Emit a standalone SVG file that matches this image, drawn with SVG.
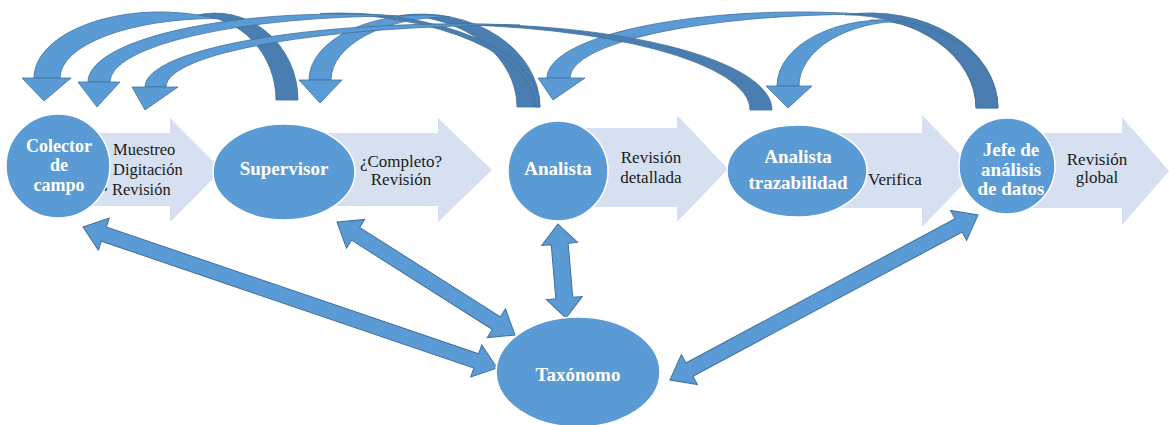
<svg xmlns="http://www.w3.org/2000/svg" width="1169" height="425" viewBox="0 0 1169 425">
<style>
.chev{fill:#d6e0f0}
.node{fill:#5b9bd5;stroke:#fff;stroke-width:1.5}
.nt{font-family:'Liberation Serif','DejaVu Serif',serif;font-weight:bold;font-size:19px;fill:#fff;text-anchor:middle}
.sm{font-size:18px}
.lt{font-family:'Liberation Serif','DejaVu Serif',serif;font-size:17px;fill:#1a1a1a}
.l1{font-size:16.5px}
.lite{fill:#5b9bd5;stroke:#41719c;stroke-width:0.8}
.dark{fill:#4a7eb0;stroke:#41719c;stroke-width:0.8}
.dbl{fill:#5b9bd5;stroke:#41719c;stroke-width:1}
</style>
<rect width="1169" height="425" fill="#fff"/>
<g id="process-arrows">
  <polygon class="chev" points="80,133 170,133 170,118 222,170 170,222 170,206 80,206"/>
  <polygon class="chev" points="300,133 438,133 438,118 492,170 438,222 438,206 300,206"/>
  <polygon class="chev" points="560,128 677,128 677,115 728,169 677,222 677,207 560,207"/>
  <polygon class="chev" points="800,133 922,133 922,115 976,171 922,227 922,208 800,208"/>
  <polygon class="chev" points="1000,133 1122,133 1122,117 1169,171 1122,225 1122,208 1000,208"/>
  <text class="lt l1" x="113" y="155">Muestreo</text>
  <text class="lt l1" x="113" y="175">Digitación</text>
  <text class="lt l1" x="102" y="195">•</text>
  <text class="lt l1" x="112" y="195">Revisión</text>
  <text class="lt" x="401" y="167" text-anchor="middle">¿Completo?</text>
  <text class="lt" x="401" y="185" text-anchor="middle">Revisión</text>
  <text class="lt" x="651" y="163" text-anchor="middle">Revisión</text>
  <text class="lt" x="651" y="183" text-anchor="middle">detallada</text>
  <text class="lt" x="868" y="185">Verifica</text>
  <text class="lt" x="1097" y="165" text-anchor="middle">Revisión</text>
  <text class="lt" x="1097" y="183" text-anchor="middle">global</text>
</g>
<g id="connectors">
  <g id="fb-supervisor-colector">
    <path class="dark" d="M298,100 A83,87 0 0 0 195,15.6 A81,84.4 0 0 1 276,100 Z"/>
    <path class="lite" d="M34,78 A126,66 0 0 1 215,18.6 A155,59.4 0 0 0 60,78 Z"/>
    <polygon class="lite" points="22,78 71,78 44,101"/>
  </g>
  <g id="fb-analista-supervisor">
    <path class="dark" d="M540,107 A119,93 0 0 0 400,15.5 A117,91.5 0 0 1 517,107 Z"/>
    <path class="lite" d="M309,80 A114,65 0 0 1 450,16.8 A119,63.2 0 0 0 331,80 Z"/>
    <polygon class="lite" points="299,80 342,80 320,103"/>
  </g>
  <g id="fb-jefe-analista">
    <path class="dark" d="M998,108 A128,95 0 0 0 845,14.8 A131,93.2 0 0 1 976,108 Z"/>
    <path class="lite" d="M547,78 A253,66 0 0 1 865,14.2 A295,63.8 0 0 0 570,78 Z"/>
    <polygon class="lite" points="538,78 585,78 553,100"/>
  </g>
  <g id="fb-jefe-trazabilidad">
    <path class="dark" d="M998,108 A118,88 0 0 0 870,20.3 A106,87.7 0 0 1 976,108 Z"/>
    <path class="lite" d="M777,86 A108,66 0 0 1 905,21.1 A106,64.9 0 0 0 799,86 Z"/>
    <polygon class="lite" points="766,86 812,86 788,108"/>
  </g>
  <g id="fb-analista-colector">
    <path class="dark" d="M540,107 A200,94 0 0 0 320,13.5 A215,93.5 0 0 1 535,107 Z"/>
    <path class="lite" d="M88,82 A252,68 0 0 1 400,16 A290,66 0 0 0 110,82 Z"/>
    <polygon class="lite" points="78,82 120,82 97,107"/>
  </g>
  <g id="fb-trazabilidad-colector">
    <path class="dark" d="M772,110 A312,86 0 0 0 430,24.4 A320,85.6 0 0 1 750,110 Z"/>
    <path class="lite" d="M145,87 A315,63 0 0 1 520,25.1 A354,61.9 0 0 0 166,87 Z"/>
    <polygon class="lite" points="132,87 178,87 145,110"/>
  </g>
  <g id="tax-colector" transform="translate(83,227) rotate(18.81)">
    <polygon class="dbl" points="0,0 22,-17 22,-7.5 415.4,-7.5 415.4,-17 437.4,0 415.4,17 415.4,7.5 22,7.5 22,17"/>
  </g>
  <g id="tax-supervisor" transform="translate(337,222) rotate(32.41)">
    <polygon class="dbl" points="0,0 22,-17 22,-7.5 188.8,-7.5 188.8,-17 210.8,0 188.8,17 188.8,7.5 22,7.5 22,17"/>
  </g>
  <g id="tax-analista" transform="translate(558,224) rotate(85.14)">
    <polygon class="dbl" points="0,0 20,-18 20,-8.5 74.3,-8.5 74.3,-18 94.3,0 74.3,18 74.3,8.5 20,8.5 20,18"/>
  </g>
  <g id="tax-jefe" transform="translate(670,380) rotate(-28.18)">
    <polygon class="dbl" points="0,0 22,-17 22,-7.5 327.4,-7.5 327.4,-17 349.4,0 327.4,17 327.4,7.5 22,7.5 22,17"/>
  </g>
</g>
<g id="colector">
  <circle class="node" cx="58" cy="166" r="52"/>
  <text class="nt sm" x="59" y="152">Colector</text>
  <text class="nt sm" x="59" y="171">de</text>
  <text class="nt sm" x="59" y="191">campo</text>
</g>
<g id="supervisor">
  <ellipse class="node" cx="284" cy="172" rx="71" ry="48"/>
  <text class="nt" x="284" y="175">Supervisor</text>
</g>
<g id="analista">
  <circle class="node" cx="558" cy="171" r="50"/>
  <text class="nt" x="558" y="175">Analista</text>
</g>
<g id="analista-trazabilidad">
  <ellipse class="node" cx="797" cy="171" rx="70" ry="46"/>
  <text class="nt" x="798" y="163">Analista</text>
  <text class="nt" x="798" y="189">trazabilidad</text>
</g>
<g id="jefe">
  <circle class="node" cx="1007" cy="166" r="48"/>
  <text class="nt" x="1011" y="156">Jefe de</text>
  <text class="nt" x="1011" y="176">análisis</text>
  <text class="nt" x="1011" y="195">de datos</text>
</g>
<g id="taxonomo">
  <ellipse class="node" cx="578" cy="372" rx="82" ry="55"/>
  <text class="nt" x="578" y="381">Taxónomo</text>
</g>
</svg>
